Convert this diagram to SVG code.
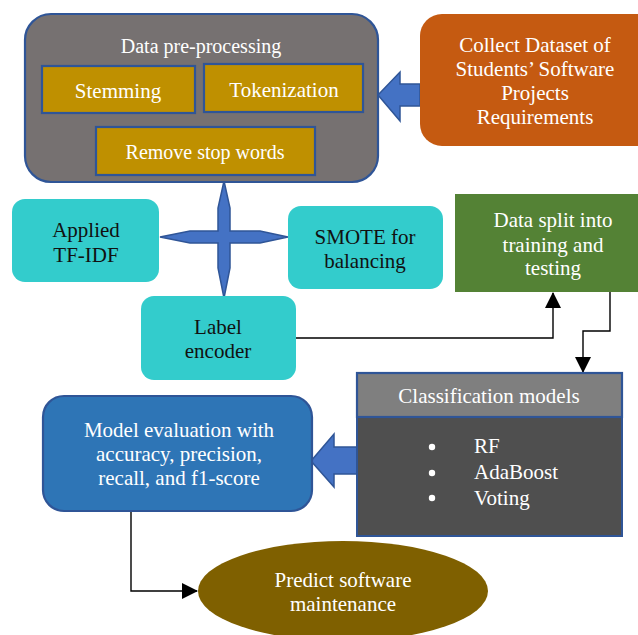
<svg xmlns="http://www.w3.org/2000/svg" width="638" height="635" viewBox="0 0 638 635">
  <defs>
    <marker id="tri" viewBox="0 0 16 16" refX="15" refY="8" markerWidth="16" markerHeight="16" markerUnits="userSpaceOnUse" orient="auto">
      <path d="M0,0 L16,8 L0,16 Z" fill="#000"/>
    </marker>
    <style>
      text { font-family: 'Liberation Serif', 'DejaVu Serif', serif; font-size: 21px; text-anchor: middle; }
      .w { fill: #ffffff; }
      .k { fill: #111111; }
      .edge { fill: none; stroke: #000; stroke-width: 1.4; }
      .block { fill: #4472c4; stroke: #2f5597; stroke-width: 1.5; stroke-linejoin: miter; }
      .gold { fill: #bf9000; stroke: #2f5597; stroke-width: 2.2; }
      .cyan { fill: #33cccc; }
    </style>
  </defs>
  <rect width="638" height="635" fill="#ffffff"/>

  <!-- block arrows and the four-way star -->
  <g id="block-arrows">
    <polygon class="block" points="378,95 400,72 400,84 420,84 420,106 400,106 400,121"/>
    <polygon class="block" points="311,461 334,434 334,447 357,447 357,474 334,474 334,487"/>
    <polygon class="block" points="224,181 230,208 230,231 260,231 288,237 260,243 230,243 230,268 224,298 218,268 218,243 190,243 160,237 190,231 218,231 218,208"/>
  </g>

  <!-- connectors -->
  <g id="connectors">
    <polyline class="edge" points="296,338 553,338 553,293" marker-end="url(#tri)"/>
    <polyline class="edge" points="610,292 610,331 583,331 583,372" marker-end="url(#tri)"/>
    <polyline class="edge" points="131,511 131,591 197,591" marker-end="url(#tri)"/>
  </g>

  <g font-family="Liberation Serif, DejaVu Serif, serif">
  <g id="preprocessing">
    <rect x="25" y="14" width="353" height="168" rx="26" fill="#767171" stroke="#2f5597" stroke-width="2.2"/>
    <text class="w" x="201" y="53" style="font-size:20px">Data pre-processing</text>
  </g>
  <g id="stemming">
    <rect class="gold" x="42" y="66" width="153" height="47"/>
    <text class="w" x="118" y="98">Stemming</text>
  </g>
  <g id="tokenization">
    <rect class="gold" x="204" y="64" width="159" height="48"/>
    <text class="w" x="284" y="97">Tokenization</text>
  </g>
  <g id="stopwords">
    <rect class="gold" x="96" y="127" width="219" height="48"/>
    <text class="w" x="205" y="159" style="font-size:20px">Remove stop words</text>
  </g>

  <g id="collect">
    <rect x="420" y="14" width="240" height="132" rx="22" fill="#c55a11"/>
    <text class="w" x="535" y="52">Collect Dataset of</text>
    <text class="w" x="535" y="76">Students’ Software</text>
    <text class="w" x="535" y="100">Projects</text>
    <text class="w" x="535" y="124">Requirements</text>
  </g>

  <g id="tfidf">
    <rect class="cyan" x="12" y="199" width="147" height="83" rx="13"/>
    <text class="k" x="86" y="237">Applied</text>
    <text class="k" x="86" y="262">TF-IDF</text>
  </g>
  <g id="smote">
    <rect class="cyan" x="288" y="206" width="155" height="83" rx="13"/>
    <text class="k" x="365" y="244">SMOTE for</text>
    <text class="k" x="365" y="268">balancing</text>
  </g>
  <g id="label-encoder">
    <rect class="cyan" x="141" y="296" width="155" height="84" rx="13"/>
    <text class="k" x="218" y="334">Label</text>
    <text class="k" x="218" y="358">encoder</text>
  </g>

  <g id="split">
    <rect x="455" y="194" width="190" height="98" fill="#548235"/>
    <text class="w" x="553" y="227">Data split into</text>
    <text class="w" x="553" y="252">training and</text>
    <text class="w" x="553" y="275">testing</text>
  </g>

  <g id="classification">
    <rect x="357" y="417" width="265" height="119" fill="#4f4f4f" stroke="#2f5597" stroke-width="2"/>
    <rect x="357" y="373" width="265" height="44" fill="#7f7f7f" stroke="#2f5597" stroke-width="2.2"/>
    <text class="w" x="489" y="403">Classification models</text>
    <circle cx="432" cy="447" r="3.2" fill="#ffffff"/>
    <circle cx="432" cy="473" r="3.2" fill="#ffffff"/>
    <circle cx="432" cy="498" r="3.2" fill="#ffffff"/>
    <text class="w" x="474" y="453" style="text-anchor:start">RF</text>
    <text class="w" x="474" y="479" style="text-anchor:start">AdaBoost</text>
    <text class="w" x="474" y="505" style="text-anchor:start">Voting</text>
  </g>

  <g id="evaluation">
    <rect x="43" y="396" width="269" height="115" rx="21" fill="#2e75b6" stroke="#2f5597" stroke-width="2.2"/>
    <text class="w" x="179" y="437">Model evaluation with</text>
    <text class="w" x="179" y="461">accuracy, precision,</text>
    <text class="w" x="179" y="485">recall, and f1-score</text>
  </g>

  <g id="predict">
    <ellipse cx="343" cy="591" rx="145" ry="50" fill="#7f6000"/>
    <text class="w" x="343" y="587">Predict software</text>
    <text class="w" x="343" y="611">maintenance</text>
  </g>
  </g>
</svg>
